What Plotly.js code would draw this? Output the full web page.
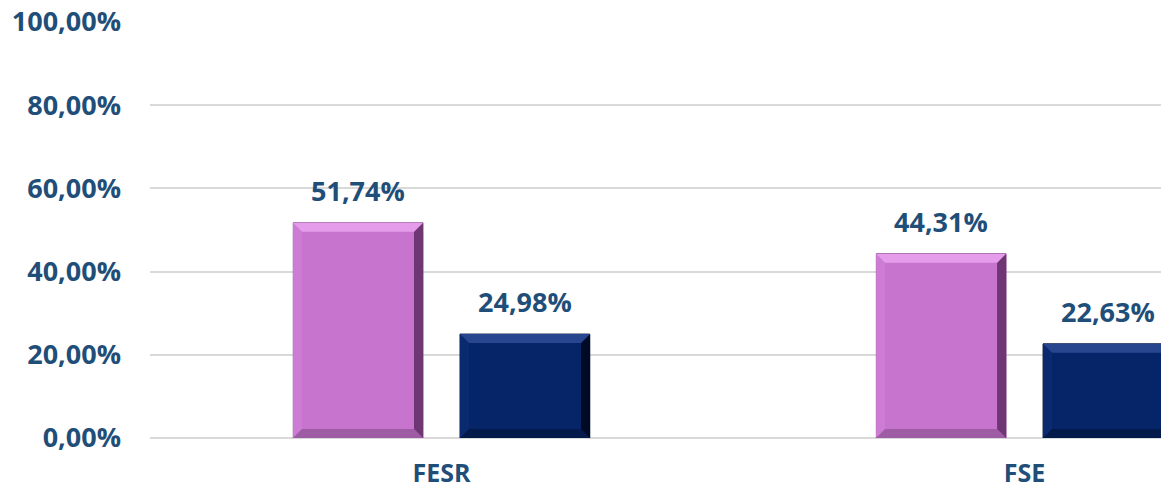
<!DOCTYPE html>
<html><head><meta charset="utf-8">
<script src="https://cdn.plot.ly/plotly-3.0.1.min.js"></script>
<style>html,body{margin:0;padding:0;background:#fff}#chart{width:1161px;height:492px}</style>
</head><body><div id="chart"></div>
<script>
const categories = ['FESR', 'FSE'];
const seriesA = [51.74, 44.31];
const seriesB = [24.98, 22.63];
const yTicks = [0, 20, 40, 60, 80, 100];
const yTickText = ['0,00%', '20,00%', '40,00%', '60,00%', '80,00%', '100,00%'];

const txtColor = '#1F4E79';
const fnt = {family: 'Open Sans, sans-serif', size: 27, color: txtColor, weight: 700};

function lbl(v){ return v.toFixed(2).replace('.', ',') + '%'; }

const styleA = {base:'#C774CF', light:'#E49CEB', left:'#CC7CD4', dark:'#6E3673', mid:'#9E5CA4'};
const styleB = {base:'#062468', light:'#284690', left:'#0A2A70', dark:'#010A24', mid:'#041A4A'};

const traces = [
  {type:'bar', x:categories, y:seriesA, name:'A', offsetgroup:'a',
   marker:{color:styleA.base, line:{color:'#8A5290', width:1}}, hoverinfo:'none'},
  {type:'bar', x:categories, y:seriesB, name:'B', offsetgroup:'b',
   marker:{color:styleB.base, line:{color:'#031033', width:1}}, hoverinfo:'none'}
];

// layout geometry
const W = 1161, H = 492, mL = 150, mR = 0, mT = 22, mB = 54;
const pxPerUnit = (H - mT - mB) / 100;
const half = 65, off = 83.5, bev = 9, bv = bev / pxPerUnit;

function bevelShapes(i, v, dx, st){
  const L = dx - half, R = dx + half;
  const mk = (path, color) => ({type:'path', xref:'x', yref:'y', xsizemode:'pixel', xanchor:i,
    path:path, fillcolor:color, line:{width:0}, layer:'above'});
  return [
    mk(`M${L},${v} L${L},0 L${L+bev},${bv} L${L+bev},${v-bv} Z`, st.left),
    mk(`M${L},0 L${R},0 L${R-bev},${bv} L${L+bev},${bv} Z`, st.mid),
    mk(`M${R},${v} L${R},0 L${R-bev},${bv} L${R-bev},${v-bv} Z`, st.dark),
    mk(`M${L},${v} L${R},${v} L${R-bev},${v-bv} L${L+bev},${v-bv} Z`, st.light)
  ];
}

const shapes = [];
const annotations = [];
categories.forEach((c, i) => {
  shapes.push(...bevelShapes(i, seriesA[i], -off, styleA));
  shapes.push(...bevelShapes(i, seriesB[i], off, styleB));
  annotations.push({x:i, y:seriesA[i], xref:'x', yref:'y', text:lbl(seriesA[i]), showarrow:false,
    yanchor:'bottom', yshift:12, xshift:-off, font:fnt});
  annotations.push({x:i, y:seriesB[i], xref:'x', yref:'y', text:lbl(seriesB[i]), showarrow:false,
    yanchor:'bottom', yshift:12, xshift:off, font:fnt});
});

const layout = {
  width:W, height:H,
  margin:{l:mL, r:mR, t:mT, b:mB},
  paper_bgcolor:'#fff', plot_bgcolor:'#fff',
  showlegend:false,
  barmode:'group', bargap:0.428, bargroupgap:0.222,
  xaxis:{type:'category', range:[-0.5, 1.234], showgrid:false, showline:false, zeroline:false,
    ticks:'', tickfont:{family:'Open Sans, sans-serif', size:25, color:txtColor, weight:700}, ticklabelstandoff:18},
  yaxis:{range:[0,100], tickvals:yTicks, ticktext:yTickText,
    showgrid:true, gridcolor:'#D9D9D9', gridwidth:2, zeroline:true, zerolinecolor:'#D9D9D9', zerolinewidth:2,
    showline:false, ticks:'', ticklabelstandoff:28, tickfont:fnt},
  shapes:shapes,
  annotations:annotations
};

Plotly.newPlot('chart', traces, layout, {displayModeBar:false, staticPlot:true});
</script></body></html>
